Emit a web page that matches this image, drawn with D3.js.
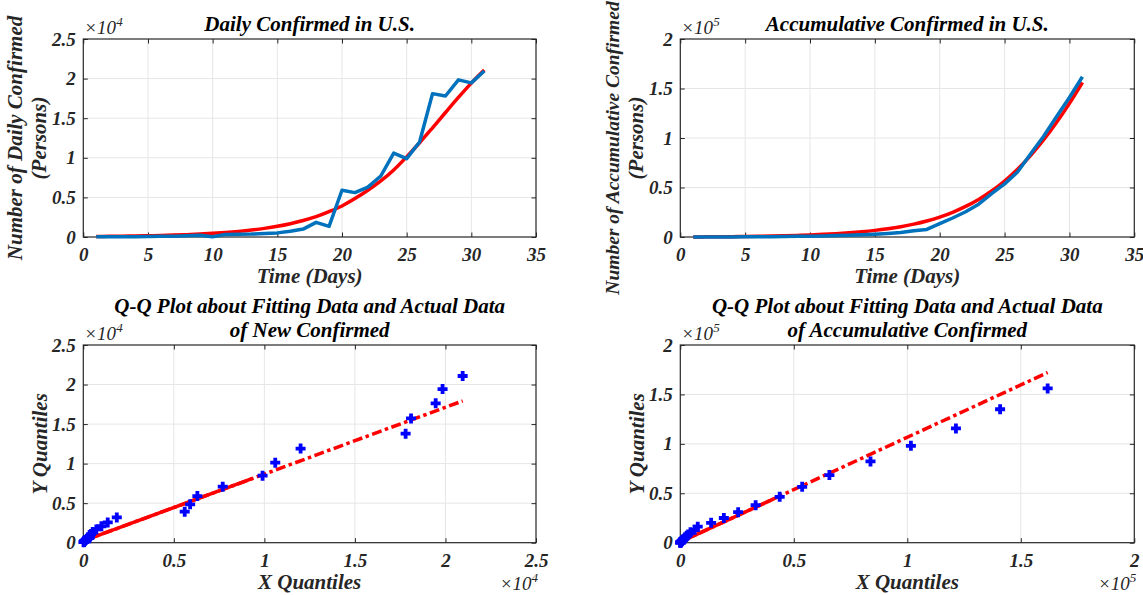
<!DOCTYPE html>
<html>
<head>
<meta charset="utf-8">
<script src="https://cdn.jsdelivr.net/npm/d3@7/dist/d3.min.js"></script>
<style>
  html, body { margin: 0; padding: 0; background: #fff; }
  svg text { font-family: "Liberation Serif", "Times New Roman", serif; font-style: italic; font-weight: bold; }
</style>
</head>
<body>
<svg id="fig" width="1143" height="595"></svg>
<script>
// ---- data (persons) ----
const days = [1,2,3,4,5,6,7,8,9,10,11,12,13,14,15,16,17,18,19,20,21,22,23,24,25,26,27,28,29,30,31];

const dailyActual = [20,25,30,40,60,80,100,150,220,40,330,350,370,430,520,720,1000,1850,1350,
  5900,5600,6300,7700,10600,9900,12000,18100,17800,19840,19460,20950];
const dailyFit = [65,80,100,125,155,195,240,300,370,460,570,710,880,1090,1350,1680,2080,2570,3200,
  3920,4850,5900,7080,8470,10120,11900,13790,15720,17620,19430,21080];
const cumActual = [20,45,75,115,175,255,355,505,725,765,1095,1445,1815,2245,2765,3485,4485,6335,7685,
  13585,19185,25485,33185,43785,53685,65685,83785,101585,121425,140885,161835];
const cumFit = [65,145,245,370,525,720,960,1260,1630,2090,2660,3370,4250,5340,6690,8370,10450,13020,16220,
  20140,24990,30890,37970,46440,56560,68460,82250,97970,115590,135020,156100];

// tick labels (in units of 10^exp)
const dayTicks = [0,5,10,15,20,25,30,35];
const ticks25 = [0,0.5,1,1.5,2,2.5];
const ticks20 = [0,0.5,1,1.5,2];

const BLUE_LINE = "#0072BD", BLUE_MARK = "#0000FF", RED = "#FF0000", INK = "#262626";
const svg = d3.select("#fig");

// percentile as used by MATLAB's prctile (midpoint plotting positions)
function prctile(sorted, p) {
  const n = sorted.length, pos = p * n + 0.5;
  const i = Math.floor(pos), f = pos - i;
  return sorted[i - 1] + f * (sorted[i] - sorted[i - 1]);
}

function makeAxes(o) {
  const x = d3.scaleLinear().domain([o.xTicks[0], o.xTicks[o.xTicks.length - 1]]).range([o.left, o.right]);
  const y = d3.scaleLinear().domain([o.yTicks[0], o.yTicks[o.yTicks.length - 1]]).range([o.bottom, o.top]);
  const g = svg.append("g");

  // grid
  const grid = g.append("g").attr("stroke", "#e6e6e6").attr("stroke-width", 1);
  grid.selectAll("line.vx").data(o.xTicks.slice(1, -1)).join("line")
    .attr("x1", d => x(d)).attr("x2", d => x(d)).attr("y1", o.top).attr("y2", o.bottom);
  grid.selectAll("line.hy").data(o.yTicks.slice(1, -1)).join("line")
    .attr("x1", o.left).attr("x2", o.right).attr("y1", d => y(d)).attr("y2", d => y(d));

  const fmt = d => String(d);
  const style = sel => {
    sel.select(".domain").remove();
    sel.selectAll(".tick line").attr("stroke", INK).attr("stroke-width", 1);
    sel.selectAll("text").attr("font-size", 19).attr("fill", INK);
  };
  g.append("g").attr("transform", `translate(0,${o.bottom})`)
    .call(d3.axisBottom(x).tickValues(o.xTicks).tickSize(-4.5).tickPadding(10.5).tickFormat(fmt)).call(style);
  g.append("g").attr("transform", `translate(0,${o.top})`)
    .call(d3.axisTop(x).tickValues(o.xTicks).tickSize(-4.5).tickFormat("")).call(style);
  g.append("g").attr("transform", `translate(${o.left},0)`)
    .call(d3.axisLeft(y).tickValues(o.yTicks).tickSize(-4.5).tickPadding(7.5).tickFormat(fmt)).call(style);
  g.append("g").attr("transform", `translate(${o.right},0)`)
    .call(d3.axisRight(y).tickValues(o.yTicks).tickSize(-4.5).tickFormat("")).call(style);

  g.append("rect").attr("x", o.left).attr("y", o.top)
    .attr("width", o.right - o.left).attr("height", o.bottom - o.top)
    .attr("fill", "none").attr("stroke", INK).attr("stroke-width", 1.2);

  // exponent labels
  const expo = (tx, ty, anchor, p) => {
    const t = g.append("text").attr("x", tx).attr("y", ty).attr("text-anchor", anchor)
      .attr("font-size", 19).attr("fill", INK).style("font-weight", "normal");
    t.append("tspan").text("\u00d710");
    t.append("tspan").attr("dy", -8).attr("font-size", 13).text(p);
  };
  if (o.yExp) expo(o.left + 1, o.top - 5, "start", o.yExp);
  if (o.xExp) expo(o.right + 2, o.bottom + 47, "end", o.xExp);

  // titles
  const cx = (o.left + o.right) / 2;
  o.title.forEach((t, i) => {
    g.append("text").attr("x", cx).attr("y", o.titleY + i * 24.5).attr("text-anchor", "middle")
      .attr("font-size", 21).attr("fill", "#000").text(t);
  });
  g.append("text").attr("x", cx).attr("y", o.bottom + 46).attr("text-anchor", "middle")
    .attr("font-size", 21).attr("fill", INK).text(o.xLabel);
  const cy = (o.top + o.bottom) / 2;
  o.yLabel.forEach((t, i) => {
    const fs = o.yLabelSize ? o.yLabelSize[i] : 21;
    const shift = o.yLabelShift ? o.yLabelShift[i] : 0;
    g.append("text")
      .attr("transform", `translate(${o.left - o.yLabelOffset + i * 24},${cy + shift}) rotate(-90)`)
      .attr("text-anchor", "middle").attr("font-size", fs).attr("fill", INK).text(t);
  });
  return { x, y, g };
}

// ---- time series panels ----
function seriesPanel(o, actual, fit, scale) {
  const { x, y, g } = makeAxes(o);
  const fitLine = d3.line().x((d, i) => x(days[i])).y(d => y(d / scale)).curve(d3.curveMonotoneX);
  const actLine = d3.line().x((d, i) => x(days[i])).y(d => y(d / scale));
  g.append("path").datum(fit).attr("d", fitLine).attr("fill", "none")
    .attr("stroke", RED).attr("stroke-width", 3.5).attr("stroke-linejoin", "round");
  g.append("path").datum(actual).attr("d", actLine).attr("fill", "none")
    .attr("stroke", BLUE_LINE).attr("stroke-width", 3.5).attr("stroke-linejoin", "round");
}

// ---- Q-Q panels ----
function qqPanel(o, actual, fit, scale) {
  const { x, y, g } = makeAxes(o);
  const xs = actual.slice().sort(d3.ascending);
  const ys = fit.slice().sort(d3.ascending);
  const q1x = prctile(xs, 0.25), q3x = prctile(xs, 0.75);
  const q1y = prctile(ys, 0.25), q3y = prctile(ys, 0.75);
  const slope = (q3y - q1y) / (q3x - q1x);
  const cxq = (q1x + q3x) / 2, cyq = (q1y + q3y) / 2;
  const minx = xs[0], maxx = xs[xs.length - 1];
  const ext = [[minx, cyq - slope * (cxq - minx)], [maxx, cyq + slope * (maxx - cxq)]];
  const mid = [[q1x, q1y], [q3x, q3y]];
  const ln = d3.line().x(d => x(d[0] / scale)).y(d => y(d[1] / scale));
  g.append("path").datum(ext).attr("d", ln).attr("fill", "none").attr("stroke", RED)
    .attr("stroke-width", 3.5).attr("stroke-dasharray", "10,3.5,3.5,3.5");
  g.append("path").datum(mid).attr("d", ln).attr("fill", "none").attr("stroke", RED)
    .attr("stroke-width", 3.5);
  const pts = xs.map((v, i) => [v, ys[i]]);
  g.append("g").selectAll("path").data(pts).join("path")
    .attr("transform", d => `translate(${x(d[0] / scale)},${y(d[1] / scale)})`)
    .attr("d", "M-5,0H5M0,-5V5")
    .attr("stroke", BLUE_MARK).attr("stroke-width", 3.8).attr("fill", "none");
}

const L = { left: 83.3, right: 536 }, R = { left: 680.3, right: 1134.3 };
const T = { top: 39, bottom: 237 }, B = { top: 345, bottom: 542.7 };

seriesPanel({ ...L, ...T, xTicks: dayTicks, yTicks: ticks25, yExp: "4",
  title: ["Daily Confirmed in U.S."], titleY: 31,
  xLabel: "Time (Days)", yLabel: ["Number of Daily Confirmed", "(Persons)"], yLabelOffset: 61
}, dailyActual, dailyFit, 1e4);

seriesPanel({ ...R, ...T, xTicks: dayTicks, yTicks: ticks20, yExp: "5",
  title: ["Accumulative Confirmed in U.S."], titleY: 31,
  xLabel: "Time (Days)", yLabel: ["Number of Accumulative Confirmed", "(Persons)"], yLabelOffset: 61,
  yLabelSize: [19.5, 21], yLabelShift: [10, 0]
}, cumActual, cumFit, 1e5);

qqPanel({ ...L, ...B, xTicks: ticks25, yTicks: ticks25, yExp: "4", xExp: "4",
  title: ["Q-Q Plot about Fitting Data and Actual Data", "of New Confirmed"], titleY: 312.5,
  xLabel: "X Quantiles", yLabel: ["Y Quantiles"], yLabelOffset: 36
}, dailyActual, dailyFit, 1e4);

qqPanel({ ...R, ...B, xTicks: ticks20, yTicks: ticks20, yExp: "5", xExp: "5",
  title: ["Q-Q Plot about Fitting Data and Actual Data", "of Accumulative Confirmed"], titleY: 312.5,
  xLabel: "X Quantiles", yLabel: ["Y Quantiles"], yLabelOffset: 36
}, cumActual, cumFit, 1e5);
</script>
</body>
</html>
